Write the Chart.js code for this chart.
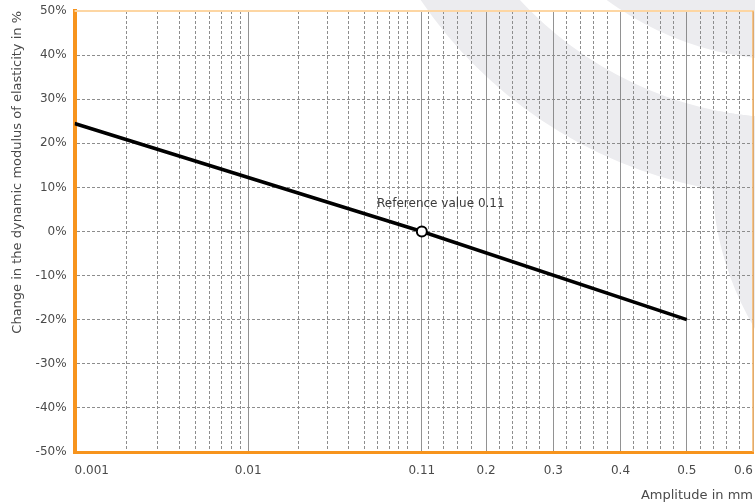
<!DOCTYPE html>
<html>
<head>
<meta charset="utf-8">
<script src="https://cdn.jsdelivr.net/npm/chart.js@4.4.1/dist/chart.umd.min.js"></script>
<style>
  html, body { margin: 0; padding: 0; background: #fff; }
  #wrap { width: 755px; height: 503px; position: relative; }
</style>
</head>
<body>
<div id="wrap"><canvas id="elasticityChart"></canvas></div>
<script>
// values
const amplitudeMm = [0.001, 0.11, 0.5];
const changePct = [24.5, 0, -20];
const referenceAmplitude = 0.11;
const referenceLabel = 'Reference value 0.11';

// labelled x ticks (they are also the break points of the axis)
const xTickValues = [0.001, 0.01, 0.11, 0.2, 0.3, 0.4, 0.5, 0.6];
const xTickLabels = ['0.001', '0.01', '0.11', '0.2', '0.3', '0.4', '0.5', '0.6'];
// unlabelled dotted grid lines
const xMinorValues = [
  0.002, 0.003, 0.004, 0.005, 0.006, 0.007, 0.008, 0.009,
  0.02, 0.03, 0.04, 0.05, 0.06, 0.07, 0.08, 0.09,
  0.12, 0.14, 0.16, 0.18,
  0.22, 0.24, 0.26, 0.28,
  0.32, 0.34, 0.36, 0.38,
  0.42, 0.44, 0.46, 0.48,
  0.52, 0.54, 0.56, 0.58
];
const yTickValues = [-50, -40, -30, -20, -10, 0, 10, 20, 30, 40, 50];

const fontName = '"DejaVu Sans", "Open Sans", sans-serif';
Chart.defaults.font.family = fontName;
Chart.defaults.font.size = 12;
Chart.defaults.color = '#4a4a4a';

// the axis is logarithmic over the first two decades and linear after 0.11
const segKind = ['log', 'log', 'lin', 'lin', 'lin', 'lin', 'lin'];
const segSpan = [173, 173, 64, 67, 67, 66, 66];

function toAxis(mm) {
  let u = 0;
  for (let i = 0; i < xTickValues.length - 1; i++) {
    const a = xTickValues[i], b = xTickValues[i + 1];
    if (mm <= b || i === xTickValues.length - 2) {
      const f = segKind[i] === 'log' ? Math.log(mm / a) / Math.log(b / a) : (mm - a) / (b - a);
      return u + f * segSpan[i];
    }
    u += segSpan[i];
  }
  return u;
}

const orange = '#f7941d';
const gridGrey = '#8d8d8d';
const clear = 'rgba(0,0,0,0)';

// faint grey swooshes behind the plot
const watermark = {
  id: 'watermark',
  beforeDraw(chart) {
    const c = chart.ctx;
    const w = chart.width, h = chart.height;
    c.save();
    c.fillStyle = '#ececef';
    c.beginPath();
    c.arc(790, -250, 446, 0, Math.PI * 2);
    c.arc(790, -250, 368, 0, Math.PI * 2);
    c.fill('evenodd');
    c.beginPath();
    c.arc(790, -250, 310, 0, Math.PI * 2);
    c.fill();
    c.beginPath();
    c.rect(0, 0, w, h);
    c.arc(790, -250, 368, 0, Math.PI * 2);
    c.clip('evenodd');
    c.beginPath();
    c.arc(1012, 174, 300, 0, Math.PI * 2);
    c.fill();
    c.restore();
  }
};

// top / right frame and the reference label
const frameAndNote = {
  id: 'frameAndNote',
  afterDatasetsDraw(chart) {
    const c = chart.ctx;
    const a = chart.chartArea;
    c.save();
    c.strokeStyle = '#fdd6a3';
    c.lineWidth = 2;
    c.beginPath();
    c.moveTo(a.left, a.top);
    c.lineTo(a.right + 1, a.top);
    c.stroke();
    c.strokeStyle = '#f8b565';
    c.lineWidth = 1.5;
    c.beginPath();
    c.moveTo(a.right, a.top);
    c.lineTo(a.right, a.bottom);
    c.stroke();

    const xs = chart.scales.x, ys = chart.scales.y;
    const idx = amplitudeMm.indexOf(referenceAmplitude);
    const px = xs.getPixelForValue(toAxis(referenceAmplitude));
    const py = ys.getPixelForValue(changePct[idx]);
    c.font = '12px ' + fontName;
    c.fillStyle = '#3a3a3a';
    c.textAlign = 'center';
    c.textBaseline = 'middle';
    c.fillText(referenceLabel, px + 19, py - 28);
    c.restore();
  }
};

const allX = xTickValues.map(v => ({ v: v, major: true }))
  .concat(xMinorValues.map(v => ({ v: v, major: false })))
  .sort((p, q) => p.v - q.v);

const ctx = document.getElementById('elasticityChart');
const elasticityChart = new Chart(ctx, {
  type: 'line',
  data: {
    datasets: [{
      data: amplitudeMm.map((mm, i) => ({ x: toAxis(mm), y: changePct[i] })),
      borderColor: '#000',
      borderWidth: 3.5,
      pointRadius: amplitudeMm.map(mm => mm === referenceAmplitude ? 5 : 0),
      pointBackgroundColor: '#fff',
      pointBorderColor: '#000',
      pointBorderWidth: 2,
      tension: 0
    }]
  },
  options: {
    responsive: true,
    maintainAspectRatio: false,
    animation: false,
    layout: { padding: { top: 11, right: 2, left: 10, bottom: 0 } },
    plugins: {
      legend: { display: false },
      tooltip: { enabled: false }
    },
    scales: {
      x: {
        type: 'linear',
        min: 0,
        max: toAxis(0.6),
        afterBuildTicks: axis => {
          axis.ticks = allX.map(t => ({ value: toAxis(t.v), mm: t.v, isMajor: t.major }));
        },
        ticks: {
          autoSkip: false,
          maxRotation: 0,
          minRotation: 0,
          align: 'inner',
          padding: 0,
          callback: (val, i, ticks) => {
            const t = ticks[i];
            const k = xTickValues.indexOf(t.mm);
            return t.isMajor && k >= 0 ? xTickLabels[k] : '';
          }
        },
        grid: {
          drawTicks: true,
          tickLength: 12,
          tickColor: clear,
          color: c => {
            if (!c.tick || c.index === 0) return clear;
            return c.tick.isMajor ? 'rgba(110,110,110,0.75)' : gridGrey;
          },
          lineWidth: 1
        },
        border: {
          color: orange,
          width: 3,
          dash: c => (c.tick && c.tick.isMajor) ? [] : [3, 2]
        },
        title: {
          display: true,
          text: 'Amplitude in mm',
          align: 'end',
          font: { size: 13 },
          padding: { top: 9, bottom: 0 }
        }
      },
      y: {
        min: -50,
        max: 50,
        afterBuildTicks: axis => {
          axis.ticks = yTickValues.map(v => ({ value: v }));
        },
        ticks: {
          padding: 0,
          callback: v => v + '%'
        },
        grid: {
          drawTicks: true,
          tickLength: 8,
          tickColor: clear,
          color: gridGrey,
          lineWidth: 1
        },
        border: {
          color: orange,
          width: 4,
          dash: [3, 2]
        },
        title: {
          display: true,
          text: 'Change in the dynamic modulus of elasticity in %',
          align: 'end',
          font: { size: 13 },
          padding: { top: 0, bottom: 10 }
        }
      }
    }
  },
  plugins: [watermark, frameAndNote]
});
</script>
</body>
</html>
